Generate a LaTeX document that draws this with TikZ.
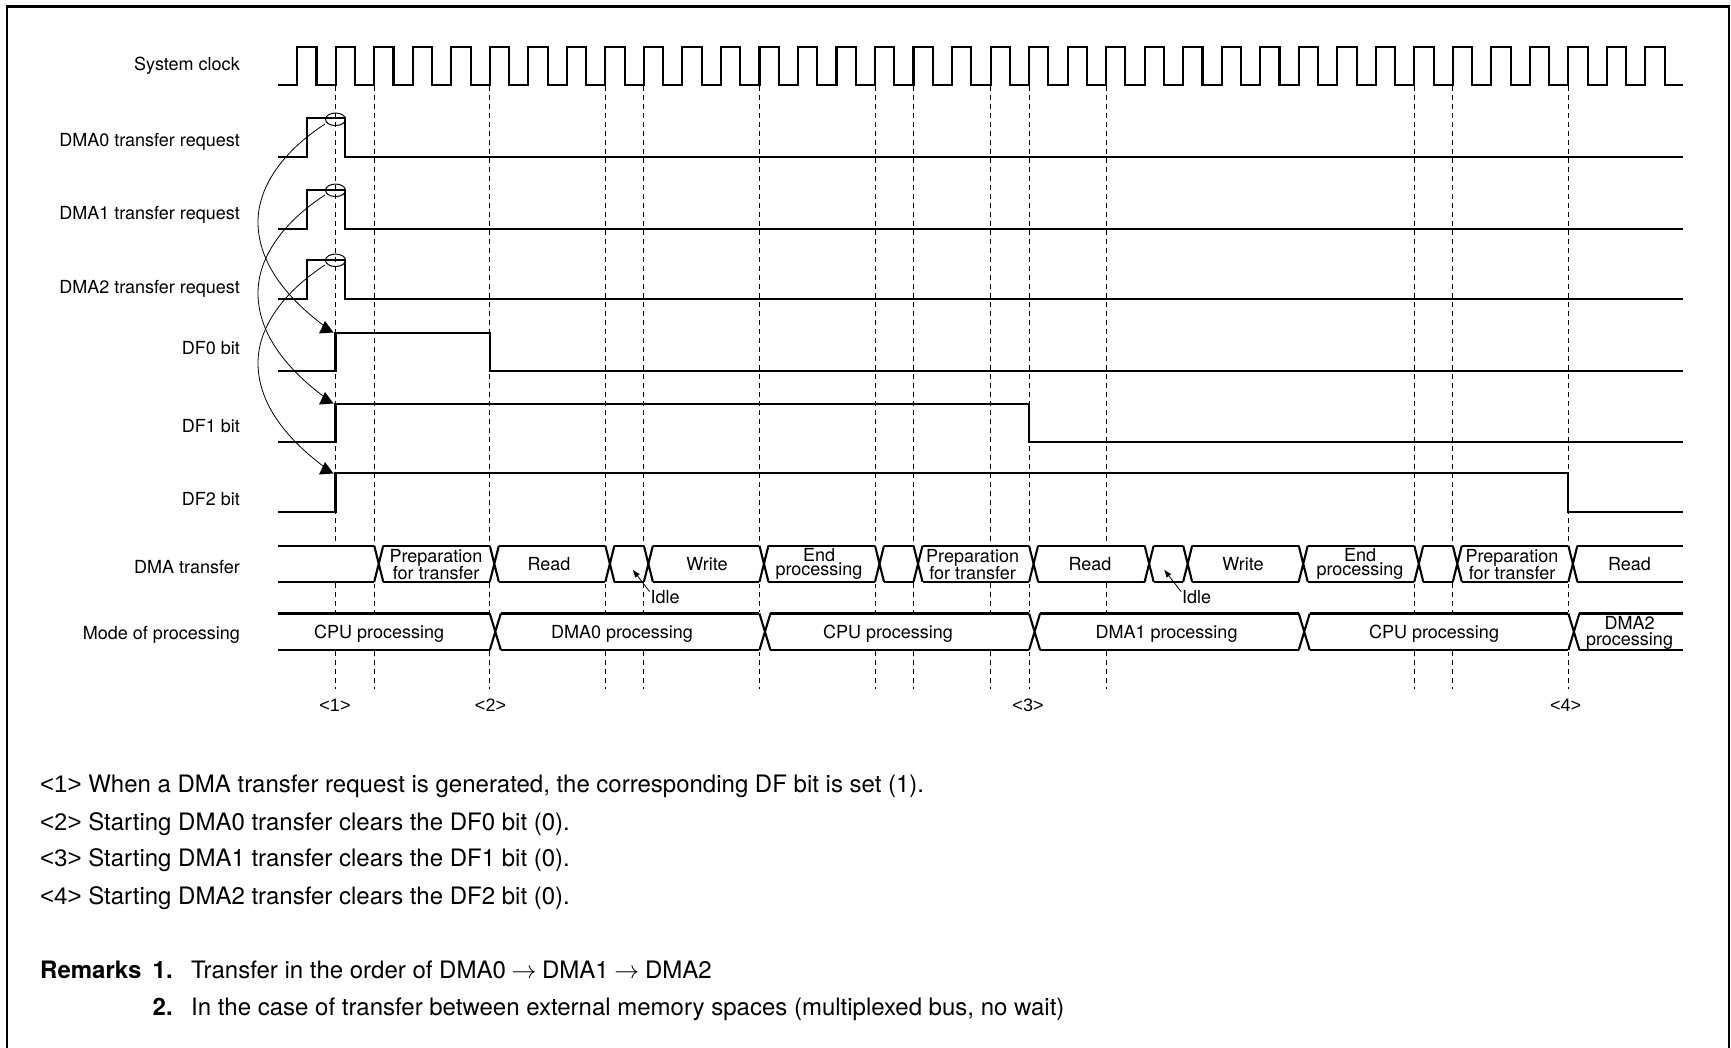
\documentclass[tikz,border=0pt]{standalone}
\usepackage{fontspec}
\setmainfont{TeX Gyre Heros}
\newfontfamily\markfont{Liberation Sans}
\usetikzlibrary{shapes.geometric,arrows.meta}
\newcommand{\busrow}[4]{%
  \draw[sig] (278,#1) -- (1683,#1) (278,#2) -- (1683,#2);
  \foreach \k in {#4} {
    \fill[white] ({clk(\k)},#1-2) rectangle ({clk(\k)+#3},#2+2);
    \draw[sig] ({clk(\k)},#1) -- ({clk(\k)+#3},#2) ({clk(\k)},#2) -- ({clk(\k)+#3},#1);
  }%
}
\begin{document}
\begin{tikzpicture}[
  x=1pt,y=-1pt,
  declare function={clk(\k)=297.2+38.52*\k;},
  sig/.style={line width=2.1pt,line join=miter},
  guide/.style={line width=.9pt,dash pattern=on 5pt off 4pt},
  pick/.style={draw,ellipse,line width=1pt,minimum width=20pt,minimum height=12.5pt,inner sep=0pt},
  every node/.style={inner sep=0pt,font=\fontsize{18}{16}\selectfont},
  lbl/.style={anchor=base east},
  txt/.style={anchor=base},
  two/.style={align=center},
  note/.style={anchor=base west,font=\fontsize{24}{28}\selectfont}
]
\useasboundingbox (0,0) rectangle (1731,1048);
\draw[line width=2.6pt] (7,1048) -- (7,6.5) -- (1729,6.5) -- (1729,1048);
\foreach \k in {1,2,5,8,9,12,15,16,18,19,21,29,30,33}
  \draw[guide] ({clk(\k)},86) -- ({clk(\k)},545) ({clk(\k)},583) -- ({clk(\k)},613) ({clk(\k)},651) -- ({clk(\k)},689);
\draw[sig] (278,85) foreach \k in {0,...,35} {-- ({clk(\k)},85) -- ({clk(\k)},47) -- ({clk(\k)+19.3},47) -- ({clk(\k)+19.3},85)} -- (1683,85);
\foreach \y in {0,72,142} {
  \draw[sig] (278,157+\y) -- (306.7,157+\y) -- (306.7,118.3+\y) -- (345.3,118.3+\y) -- (345.3,157+\y) -- (1683,157+\y);
}
\draw[sig] (278,371) -- (335.5,371) -- (335.5,332.7) -- (490,332.7) -- (490,371) -- (1683,371);
\draw[sig] (278,442) -- (335.5,442) -- (335.5,403.7) -- (1029,403.7) -- (1029,442) -- (1683,442);
\draw[sig] (278,512) -- (335.5,512) -- (335.5,473.2) -- (1568,473.2) -- (1568,512) -- (1683,512);
\busrow{545.7}{581.8}{9}{2,5,8,9,12,15,16,19,22,23,26,29,30,33}
\busrow{613.5}{650}{11}{5,12,19,26,33}
\node[pick] (pick0) at (335.5,119.3) {};
\node[pick] (pick1) at (335.5,190.3) {};
\node[pick] (pick2) at (335.5,260.3) {};
\coordinate (set0) at (323,325);
\coordinate (set1) at (323,396);
\coordinate (set2) at (323,466);
\foreach \n/\y in {0/0,1/71,2/141} {
  \draw[line width=.8pt] (pick\n) ++(-10.5,4.7) .. controls (285,150+\y) and (258,185+\y) .. (258,222+\y) .. controls (258,265+\y) and (290,300+\y) .. (set\n);
  \fill (325,321+\y) -- (319,333.5+\y) -- (333.5,332.5+\y) -- cycle;
}
\node[lbl] (lclock) at (240,71) {System clock};
\node[lbl] (lreq0) at (240,147) {DMA0 transfer request};
\node[lbl] (lreq1) at (240,220) {DMA1 transfer request};
\node[lbl] (lreq2) at (240,294) {DMA2 transfer request};
\node[lbl] (ldf0) at (240,355) {DF0 bit};
\node[lbl] (ldf1) at (240,432) {DF1 bit};
\node[lbl] (ldf2) at (240,505) {DF2 bit};
\node[lbl] (ldma) at (240,573) {DMA transfer};
\node[lbl] (lmode) at (240,639) {Mode of processing};
\node[two] (prep0) at (436,564.5) {Preparation\\[-.5pt]for transfer};
\node[txt] (read0) at (549,570.7) {Read};
\node[txt] (write0) at (707,570.7) {Write};
\node[two] (end0) at (819,564) {End\\[-2.5pt]processing};
\node[two] (prep1) at (972.6,564.5) {Preparation\\[-.5pt]for transfer};
\node[txt] (read1) at (1090,570.7) {Read};
\node[txt] (write1) at (1243,570.7) {Write};
\node[two] (end1) at (1360,564) {End\\[-2.5pt]processing};
\node[two] (prep2) at (1512,564.5) {Preparation\\[-.5pt]for transfer};
\node[txt] (read2) at (1629.5,570.7) {Read};
\node[txt] (mode0) at (379.2,638) {CPU processing};
\node[txt] (mode1) at (622,638) {DMA0 processing};
\node[txt] (mode2) at (888,638) {CPU processing};
\node[txt] (mode3) at (1166.5,638) {DMA1 processing};
\node[txt] (mode4) at (1434,638) {CPU processing};
\node[two] (mode5) at (1629.5,632.5) {DMA2\\processing};
\node[anchor=base west] (idle0) at (650.5,603) {Idle};
\node[anchor=base west] (idle1) at (1182,603) {Idle};
\coordinate (gap0) at (632.6,569.5);
\coordinate (gap1) at (1164,569.5);
\draw[-{Latex[length=8pt,width=6pt]},line width=.8pt] (idle0.west) ++(-1,-5) -- (gap0);
\draw[-{Latex[length=8pt,width=6pt]},line width=.8pt] (idle1.west) ++(-1,-5) -- (gap1);
\node[txt] (mark1) at (335,711) {\markfont <1>};
\node[txt] (mark2) at (490.5,711) {\markfont <2>};
\node[txt] (mark3) at (1028,711) {\markfont <3>};
\node[txt] (mark4) at (1565.5,711) {\markfont <4>};
\node[note] (item1) at (40,792.7) {{\markfont <1>} When a DMA transfer request is generated, the corresponding DF bit is set (1).};
\node[note] (item2) at (40,830) {{\markfont <2>} Starting DMA0 transfer clears the DF0 bit (0).};
\node[note] (item3) at (40,866.7) {{\markfont <3>} Starting DMA1 transfer clears the DF1 bit (0).};
\node[note] (item4) at (40,904) {{\markfont <4>} Starting DMA2 transfer clears the DF2 bit (0).};
\node[note] (remarks) at (40,978.3) {\bfseries Remarks};
\node[note] (rem1) at (152.5,978.3) {\bfseries 1.};
\node[note] (rem1t) at (191,978.3) {Transfer in the order of DMA0\kern-1pt{} $\rightarrow$\kern-1pt{} DMA1\kern-1pt{} $\rightarrow$\kern-1pt{} DMA2};
\node[note] (rem2) at (152.5,1015.7) {\bfseries 2.};
\node[note] (rem2t) at (191,1015.7) {In the case of transfer between external memory spaces (multiplexed bus, no wait)};
\end{tikzpicture}
\end{document}
